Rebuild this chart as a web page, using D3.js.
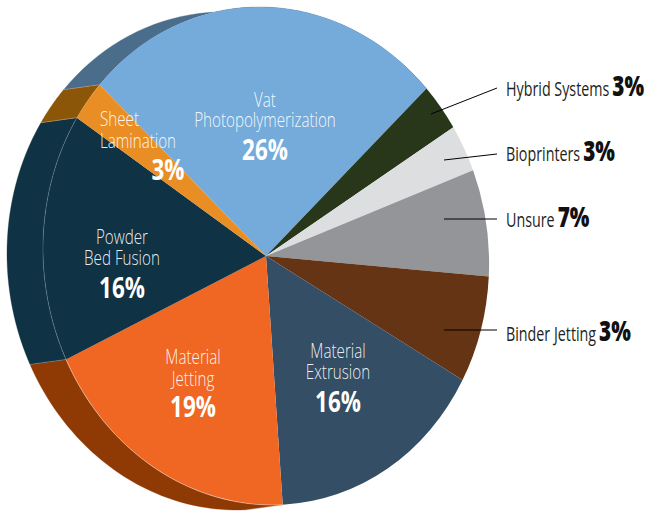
<!DOCTYPE html>
<html><head><meta charset="utf-8">
<script src="https://cdn.jsdelivr.net/npm/d3@7/dist/d3.min.js"></script>
<style>html,body{margin:0;padding:0;background:#fff}svg{display:block}
text{font-family:"Open Sans","Liberation Sans",sans-serif}</style>
</head><body><svg id="c" width="649" height="513"></svg>
<script>
// Data. Drawn shares are the slice sweeps; printed labels are as shown.
const categories = ["Vat Photopolymerization","Hybrid Systems","Bioprinters","Unsure","Binder Jetting","Material Extrusion","Material Jetting","Powder Bed Fusion","Sheet Lamination"];
const drawnShares = [26.2,3.1,3.05,6.9,7,16,18.9,16.2,2.7];
const printedLabels = ["26%","3%","3%","7%","3%","16%","19%","16%","3%"];
const faceColors = ["#74abdb","#28371a","#dddee0","#939598","#653414","#334e65","#ef6722","#0f3344","#e98e24"];
const sideColors = ["#4a6d8c",null,null,null,null,null,"#8f3a05","#0f3344","#8b5608"];

const cx=266, cy=256, rx=223, ry=249, skew=.015, dx=-36, dy=5;
const startAngle=-47.4*Math.PI/180;
const svg=d3.select("#c");
const pie=d3.pie().sort(null).value(d=>d).startAngle(startAngle).endAngle(startAngle+2*Math.PI);
const arcs=pie(drawnShares);
const px=a=>cx+rx*(Math.sin(a)-skew*Math.cos(a)), py=a=>cy+ry*(-Math.cos(a)+skew*Math.sin(a));
const line=d3.line();

// extruded side faces
arcs.forEach((d,i)=>{
  if(!sideColors[i])return;
  const as=d3.range(0,41).map(k=>d.startAngle+(d.endAngle-d.startAngle)*k/40);
  const pts=as.map(a=>[px(a),py(a)]).concat(as.slice().reverse().map(a=>[px(a)+dx,py(a)+dy]));
  svg.append("path").attr("d",line(pts)+"Z").attr("fill",sideColors[i]).attr("stroke",sideColors[i]).attr("stroke-width",.3);
});
// seams between side faces
[arcs[8].startAngle,arcs[0].startAngle,arcs[7].startAngle,arcs[6].startAngle].forEach(a=>{
  svg.append("line").attr("x1",px(a)).attr("y1",py(a)).attr("x2",px(a)+dx).attr("y2",py(a)+dy)
   .attr("stroke","#fff").attr("stroke-opacity",.4).attr("stroke-width",.6);
});
// top face
const arc=d3.arc().innerRadius(0).outerRadius(1);
const faceGroup=svg.append("g").attr("transform",`matrix(${rx},${ry*skew},${rx*skew},${ry},${cx},${cy})`);
faceGroup.selectAll("path").data(arcs).join("path").attr("d",arc).attr("fill",(d,i)=>faceColors[i]);
// light seam along the rim of the powder & jetting faces
[7,6].forEach(i=>{
  const as=d3.range(0,61).map(k=>arcs[i].startAngle+(arcs[i].endAngle-arcs[i].startAngle)*k/60);
  svg.append("path").attr("d",line(as.map(a=>[px(a),py(a)]))).attr("fill","none")
   .attr("stroke","#fff").attr("stroke-opacity",i==7?.3:.6).attr("stroke-width",.6);
});

// condensed text helper: horizontally scaled glyphs
const lightSize=20, boldSize=28, lightScale=.76, outerScale=.715, boldScale=.80, outerBoldScale=.74;
function put(x,y,s,size,weight,sx,anchor,fill,op){
  const t=svg.append("text").attr("transform",`translate(${x},${y}) scale(${sx},1)`)
    .attr("text-anchor",anchor).attr("font-size",size).attr("font-weight",weight)
    .attr("fill",fill).attr("fill-opacity",op).text(s);
  return t.node().getComputedTextLength()*sx;
}
// inner labels
const inner=[
 {i:0,x:265,lines:["Vat","Photopolymerization"],ys:[107,127],py:160},
 {i:5,x:338,lines:["Material","Extrusion"],ys:[358,379],py:412},
 {i:6,x:193,lines:["Material","Jetting"],ys:[364,386],py:417},
 {i:7,x:122,lines:["Powder","Bed Fusion"],ys:[244,265],py:298},
];
inner.forEach(l=>{
  l.lines.forEach((t,k)=>put(l.x,l.ys[k],t,lightSize,300,lightScale,"middle","#fff",.92));
  put(l.x,l.py,printedLabels[l.i],boldSize,700,boldScale,"middle","#fff",1);
});
// sheet lamination (left aligned)
["Sheet","Lamination"].forEach((t,k)=>put(100,[126,148][k],t,lightSize,300,lightScale,"start","#fff",.92));
put(168,180,printedLabels[8],boldSize,700,boldScale,"middle","#fff",1);

// outside labels with leader lines
const outside=[
 {i:1,y:96,l:[497,88,431,114]},
 {i:2,y:161,l:[497,154,444,160]},
 {i:3,y:227,l:[497,219,444,219]},
 {i:4,y:341,l:[497,330,444,330]},
];
outside.forEach(o=>{
  svg.append("line").attr("x1",o.l[0]).attr("y1",o.l[1]).attr("x2",o.l[2]).attr("y2",o.l[3])
    .attr("stroke","#000").attr("stroke-width",1);
  const w=put(506,o.y,categories[o.i],lightSize,400,outerScale,"start","#231f20",1);
  put(506+w+3,o.y,printedLabels[o.i],boldSize,800,outerBoldScale,"start","#111",1);
});
</script></body></html>
